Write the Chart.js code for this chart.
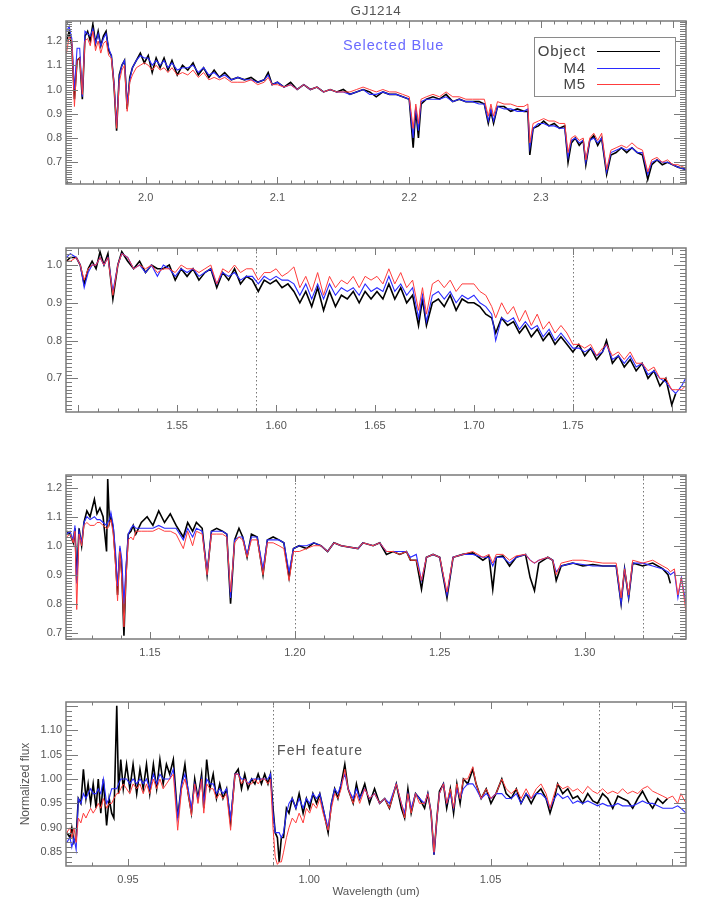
<!DOCTYPE html>
<html>
<head>
<meta charset="utf-8">
<title>GJ1214</title>
<script src="https://cdn.jsdelivr.net/npm/chart.js@4.4.1/dist/chart.umd.min.js"></script>
<style>
    body { margin: 0; background: #fff; }
    #page { position: relative; width: 706px; height: 908px; overflow: hidden; font-family: 'Liberation Sans', Arial, sans-serif; color: #555; }
    canvas.panel { position: absolute; left: 0; }
    .note { position: absolute; white-space: nowrap; line-height: 1; }
    #legend { position: absolute; left: 534px; top: 37px; width: 142px; height: 60px; border: 1px solid #8a8a8a; box-sizing: border-box; background: #fff; }
    .lg-row { position: absolute; left: 0; width: 140px; height: 16px; }
    .lg-text { position: absolute; right: 89px; top: 0; font-size: 15px; line-height: 16px; letter-spacing: 0.8px; color: #444; }
    .lg-line { position: absolute; left: 62px; width: 63px; top: 8px; }
</style>
</head>
<body>
<div id="page">
    <canvas class="panel" id="kband" width="706" height="219" style="top:5px"></canvas>
    <canvas class="panel" id="hband" width="706" height="220" style="top:232px"></canvas>
    <canvas class="panel" id="jband" width="706" height="220" style="top:459px"></canvas>
    <canvas class="panel" id="zband" width="706" height="222" style="top:686px"></canvas>

    <div class="note" style="left:0;width:752px;text-align:center;top:4px;font-size:13.5px;letter-spacing:0.6px;color:#555">GJ1214</div>
    <div class="note" style="left:343px;top:38px;font-size:14.5px;letter-spacing:0.9px;color:#6a6aff">Selected Blue</div>
    <div class="note" style="left:277px;top:743px;font-size:14px;letter-spacing:1.1px;color:#555">FeH feature</div>
    <div id="legend"></div>
</div>

<script>
// series names / colours
const seriesNames = ['Object', 'M4', 'M5'];
const seriesColors = ['#000000', '#2a2aff', '#ff3c3c'];
const seriesWidths = [1.6, 1.1, 1.0];

// ---------- K band (top panel) ----------
const kWave = [1.940,1.942,1.944,1.946,1.948,1.950,1.952,1.954,1.956,1.958,
    1.960,1.962,1.964,1.966,1.968,1.970,1.972,1.974,1.976,1.978,
    1.980,1.982,1.984,1.986,1.988,1.990,1.993,1.996,1.999,2.002,
    2.005,2.008,2.011,2.014,2.017,2.020,2.024,2.028,2.032,2.036,
    2.040,2.044,2.048,2.052,2.056,2.060,2.065,2.070,2.075,2.080,
    2.085,2.090,2.093,2.096,2.100,2.105,2.110,2.115,2.120,2.125,
    2.130,2.135,2.140,2.145,2.150,2.155,2.160,2.165,2.170,2.175,
    2.180,2.185,2.190,2.195,2.200,2.203,2.205,2.207,2.209,2.213,
    2.218,2.223,2.228,2.233,2.238,2.243,2.248,2.253,2.257,2.260,
    2.262,2.264,2.267,2.272,2.277,2.282,2.287,2.290,2.2915,2.294,
    2.298,2.302,2.306,2.310,2.314,2.318,2.3205,2.323,2.326,2.329,
    2.332,2.334,2.337,2.340,2.343,2.346,2.3498,2.353,2.357,2.361,
    2.365,2.369,2.373,2.377,2.381,2.384,2.388,2.392,2.396,2.400,
    2.404,2.410];
const kObj = [1.20,1.24,1.18,0.96,1.12,1.13,0.96,1.22,1.24,1.20,
    1.27,1.19,1.24,1.18,1.22,1.24,1.16,1.14,1.02,0.83,
    1.06,1.10,1.12,0.92,1.05,1.09,1.12,1.15,1.11,1.14,
    1.07,1.13,1.09,1.13,1.08,1.12,1.06,1.10,1.08,1.11,
    1.06,1.09,1.05,1.08,1.05,1.07,1.04,1.05,1.04,1.05,
    1.03,1.04,1.07,1.02,1.03,1.01,1.03,1.00,1.02,1.00,
    1.01,0.99,1.00,0.99,1.00,0.98,0.99,1.00,0.99,0.97,
    0.99,0.98,0.98,0.97,0.96,0.76,0.92,0.80,0.94,0.96,
    0.97,0.96,0.98,0.95,0.96,0.95,0.95,0.95,0.94,0.86,
    0.91,0.86,0.93,0.93,0.91,0.92,0.91,0.91,0.73,0.84,
    0.85,0.87,0.85,0.86,0.84,0.85,0.70,0.78,0.80,0.77,
    0.79,0.69,0.79,0.81,0.77,0.80,0.65,0.73,0.74,0.76,
    0.74,0.76,0.74,0.73,0.63,0.69,0.71,0.69,0.70,0.69,
    0.68,0.67];
const kM4 = [1.24,1.26,1.21,1.00,1.17,1.17,0.97,1.24,1.23,1.22,
    1.25,1.19,1.23,1.18,1.21,1.23,1.17,1.14,1.03,0.85,
    1.05,1.10,1.12,0.94,1.04,1.09,1.12,1.14,1.13,1.13,
    1.10,1.12,1.10,1.12,1.09,1.11,1.08,1.09,1.09,1.10,
    1.07,1.09,1.06,1.07,1.05,1.06,1.04,1.05,1.04,1.04,
    1.03,1.04,1.06,1.02,1.03,1.01,1.02,1.00,1.02,1.00,
    1.01,0.99,1.00,0.99,0.99,0.98,0.99,1.00,0.98,0.98,
    0.99,0.98,0.98,0.97,0.96,0.80,0.93,0.83,0.95,0.96,
    0.96,0.96,0.97,0.95,0.96,0.95,0.95,0.94,0.94,0.87,
    0.92,0.87,0.93,0.92,0.92,0.91,0.91,0.92,0.76,0.84,
    0.86,0.86,0.85,0.85,0.84,0.84,0.72,0.79,0.80,0.78,
    0.79,0.70,0.79,0.80,0.78,0.80,0.66,0.74,0.75,0.76,
    0.75,0.76,0.74,0.74,0.65,0.70,0.71,0.70,0.70,0.69,
    0.68,0.67];
const kM5 = [1.15,1.22,1.20,0.93,1.12,1.13,0.98,1.20,1.21,1.18,
    1.24,1.16,1.20,1.15,1.19,1.20,1.14,1.13,1.02,0.84,
    1.03,1.08,1.10,0.91,1.03,1.06,1.09,1.10,1.11,1.10,
    1.08,1.10,1.08,1.09,1.07,1.09,1.06,1.07,1.06,1.08,
    1.05,1.07,1.04,1.05,1.04,1.05,1.03,1.03,1.03,1.04,
    1.02,1.03,1.05,1.02,1.02,1.01,1.02,1.00,1.02,1.00,
    1.01,0.99,1.00,0.99,0.99,0.99,1.00,1.01,1.00,0.99,
    1.00,0.99,0.99,0.98,0.97,0.84,0.94,0.86,0.96,0.97,
    0.98,0.97,0.99,0.97,0.97,0.96,0.96,0.96,0.96,0.89,
    0.94,0.89,0.95,0.94,0.94,0.93,0.93,0.94,0.78,0.86,
    0.87,0.88,0.87,0.87,0.86,0.86,0.74,0.80,0.81,0.79,
    0.80,0.71,0.80,0.82,0.79,0.82,0.67,0.75,0.76,0.77,
    0.76,0.78,0.76,0.75,0.66,0.71,0.72,0.70,0.71,0.69,
    0.69,0.675];
const kXTicks = [2.0, 2.1, 2.2, 2.3];
const kYTicks = [0.7, 0.8, 0.9, 1.0, 1.1, 1.2];

// ---------- H band ----------
const hWave = [1.494,1.496,1.499,1.501,1.503,1.505,1.507,1.509,1.511,1.513,1.515,
    1.5175,1.520,1.522,
    1.525,1.528,1.531,1.534,1.537,1.540,1.543,1.546,1.549,1.552,
    1.555,1.558,1.561,1.564,1.567,1.570,1.573,1.576,1.579,1.582,
    1.585,1.588,1.591,1.594,1.597,1.600,1.603,1.606,1.609,1.612,
    1.615,1.618,1.621,1.624,1.627,1.630,1.633,1.636,1.639,1.642,
    1.645,1.648,1.651,1.654,1.657,1.660,1.663,1.666,1.669,1.672,
    1.674,1.676,
    1.679,1.682,1.685,1.688,1.691,1.694,1.697,1.700,1.703,1.706,1.709,
    1.711,
    1.714,1.717,1.720,1.723,1.726,1.729,1.732,1.735,1.738,1.741,
    1.744,1.747,1.750,1.753,1.756,1.759,1.762,1.765,
    1.767,
    1.770,1.773,1.776,1.779,1.782,1.785,1.788,1.791,1.794,1.797,1.800,
    1.802,1.805,1.807];
const hObj = [1.01,1.02,1.02,1.00,0.95,0.99,1.01,0.99,1.035,1.00,1.03,
    0.91,1.00,1.035,
    1.01,0.99,1.01,0.98,1.00,0.99,0.99,1.00,0.96,0.99,
    0.97,0.99,0.96,0.98,0.99,0.94,0.98,0.96,0.99,0.95,
    0.97,0.96,0.93,0.96,0.95,0.96,0.94,0.95,0.93,0.90,
    0.93,0.89,0.94,0.88,0.93,0.89,0.92,0.91,0.93,0.90,
    0.93,0.91,0.93,0.91,0.95,0.91,0.94,0.90,0.92,0.84,
    0.91,0.84,
    0.90,0.91,0.89,0.92,0.88,0.91,0.90,0.90,0.89,0.87,0.86,
    0.82,
    0.86,0.84,0.85,0.82,0.84,0.81,0.83,0.80,0.82,0.79,
    0.81,0.79,0.77,0.79,0.76,0.78,0.75,0.77,
    0.80,
    0.74,0.76,0.73,0.75,0.72,0.74,0.70,0.72,0.68,0.70,0.63,
    0.66,null,null];
const hM4 = [1.02,1.03,1.02,1.00,0.94,0.98,1.00,1.00,1.02,1.00,1.02,
    0.93,1.00,1.03,
    1.02,0.99,1.00,0.98,1.00,0.97,1.00,0.99,0.97,0.99,
    0.98,0.99,0.97,0.98,0.99,0.95,0.98,0.97,0.98,0.96,
    0.97,0.97,0.95,0.97,0.96,0.97,0.96,0.96,0.95,0.92,
    0.95,0.91,0.95,0.91,0.95,0.92,0.94,0.93,0.94,0.92,
    0.95,0.93,0.94,0.93,0.97,0.93,0.95,0.92,0.94,0.86,
    0.92,0.85,
    0.92,0.93,0.91,0.93,0.90,0.92,0.91,0.92,0.90,0.89,0.87,
    0.80,
    0.86,0.85,0.86,0.83,0.85,0.83,0.84,0.81,0.83,0.80,
    0.82,0.80,0.78,0.78,0.77,0.78,0.76,0.77,
    0.79,
    0.75,0.76,0.74,0.76,0.73,0.74,0.71,0.72,0.70,0.69,0.67,
    0.66,0.68,0.70];
const hM5 = [1.01,1.01,1.02,1.00,0.96,0.99,1.00,1.00,1.02,1.00,1.02,
    0.92,1.00,1.03,
    1.02,0.99,1.00,0.99,1.00,0.98,0.99,0.99,0.98,1.00,
    0.99,0.99,0.98,0.99,1.00,0.95,0.99,0.98,1.00,0.98,
    0.99,0.99,0.96,0.98,0.98,0.99,0.97,0.98,0.995,0.94,
    0.97,0.93,0.98,0.92,0.97,0.94,0.96,0.95,0.97,0.94,
    0.97,0.96,0.97,0.95,0.99,0.95,0.98,0.94,0.96,0.88,
    0.94,0.87,
    0.95,0.96,0.94,0.96,0.93,0.95,0.95,0.95,0.93,0.92,0.89,
    0.86,
    0.90,0.87,0.89,0.85,0.88,0.84,0.87,0.83,0.85,0.82,
    0.84,0.82,0.79,0.79,0.78,0.79,0.76,0.78,
    0.79,
    0.76,0.77,0.75,0.77,0.74,0.74,0.72,0.73,0.70,0.70,0.67,
    0.67,0.67,0.68];
const hXTicks = [1.55, 1.60, 1.65, 1.70, 1.75];
const hYTicks = [0.7, 0.8, 0.9, 1.0];
const hMarks = [1.59, 1.75];

// ---------- J band ----------
const jWave = [1.1212,1.1224,1.1235,1.1241,1.1247,1.1255,1.1264,1.1272,1.1282,1.1293,
    1.1308,1.1317,1.1327,1.1338,1.1350,1.1354,1.1360,1.1365,1.1373,1.1381,
    1.1388,1.1396,1.1403,1.1410,1.1417,1.1425,1.1434,1.1442,1.1451,1.147,
    1.149,1.151,1.153,1.155,1.157,1.159,1.1615,1.163,1.1647,1.166,
    1.168,1.1697,1.1712,1.173,1.175,1.1765,1.1778,1.1792,1.1807,1.182,
    1.1835,1.185,1.187,1.189,1.1905,1.1925,1.1945,1.1962,1.198,1.1995,
    1.2015,1.204,1.2065,1.209,1.2113,1.2135,1.216,1.2218,1.2235,1.227,
    1.2293,1.2316,1.2339,1.2362,1.2385,1.2399,1.2419,1.2437,1.2454,1.2477,
    1.250,1.2525,1.2546,1.258,1.2614,1.2649,1.267,1.2683,1.2695,1.2718,
    1.2741,1.2764,1.2796,1.2812,1.2827,1.2842,1.2873,1.289,1.2902,1.2919,
    1.2959,1.2994,1.3028,1.3063,1.3109,1.3126,1.3138,1.3152,1.3166,1.3201,
    1.3235,1.327,1.3288,1.3296,1.331,1.3322,1.3334,1.335];
const jObj = [1.05,1.04,1.01,1.06,0.88,1.06,1.00,1.08,1.12,1.10,
    1.16,1.11,1.13,1.10,0.98,1.23,1.08,1.10,1.06,0.95,
    0.83,0.99,0.90,0.69,0.90,1.04,1.05,1.07,1.04,1.08,
    1.10,1.07,1.12,1.08,1.11,1.07,1.03,1.08,1.05,1.08,
    1.06,0.90,1.05,1.06,1.05,1.04,0.80,1.02,1.06,1.03,
    0.96,1.04,1.03,0.90,1.02,1.03,1.02,1.01,0.89,0.99,
    1.00,0.99,1.01,1.00,0.98,1.01,1.00,0.99,1.01,1.00,
    1.01,0.97,0.98,0.97,0.98,0.95,0.95,0.85,0.96,0.97,
    0.96,0.82,0.96,0.97,0.975,0.95,0.965,0.85,0.96,0.965,
    0.93,0.96,0.97,0.89,0.845,0.94,0.96,0.95,0.88,0.93,
    0.94,0.93,0.935,0.93,0.93,0.80,0.92,0.82,0.94,0.93,
    0.94,0.92,0.90,0.87,null,null,null,null];
const jM4 = [1.04,1.05,1.02,1.07,0.87,1.05,1.01,1.08,1.10,1.09,
    1.10,1.09,1.09,1.08,1.07,1.08,1.09,1.115,1.07,0.98,
    0.86,1.00,0.95,0.80,0.93,1.04,1.06,1.07,1.06,1.06,
    1.06,1.06,1.07,1.06,1.06,1.06,1.02,1.06,1.03,1.06,
    1.05,0.91,1.05,1.05,1.05,1.04,0.82,1.02,1.03,1.03,
    0.97,1.03,1.03,0.92,1.02,1.02,1.02,1.01,0.91,0.99,
    1.00,1.00,1.01,1.00,0.98,1.01,1.00,0.99,1.01,1.00,
    1.01,0.98,0.98,0.98,0.98,0.96,0.97,0.88,0.96,0.97,
    0.96,0.83,0.96,0.97,0.97,0.96,0.96,0.93,0.96,0.96,
    0.94,0.96,0.97,0.95,0.94,0.95,0.96,0.95,0.91,0.93,
    0.94,0.935,0.93,0.93,0.93,0.80,0.92,0.82,0.94,0.94,
    0.93,0.92,0.91,0.90,0.91,0.82,0.89,0.80];
const jM5 = [1.03,1.04,1.01,1.05,0.78,1.04,1.00,1.07,1.08,1.07,
    1.07,1.08,1.08,1.07,1.06,1.06,1.08,1.09,1.04,0.93,
    0.81,0.98,0.88,0.72,0.88,1.02,1.03,1.02,1.05,1.05,
    1.05,1.05,1.06,1.05,1.05,1.04,0.99,1.05,1.00,1.05,
    1.04,0.90,1.04,1.04,1.04,1.03,0.84,1.01,1.03,1.02,
    0.96,1.02,1.02,0.90,1.01,1.01,1.00,0.99,0.88,0.98,
    0.98,0.99,1.00,1.00,0.98,1.01,1.00,0.99,1.01,1.00,
    1.01,0.98,0.98,0.97,0.98,0.95,0.95,0.88,0.96,0.97,
    0.96,0.84,0.96,0.97,0.98,0.96,0.97,0.94,0.97,0.97,
    0.95,0.965,0.97,0.95,0.94,0.95,0.96,0.95,0.90,0.94,
    0.95,0.95,0.945,0.94,0.94,0.82,0.92,0.83,0.95,0.94,
    0.95,0.93,0.92,0.91,0.92,0.83,0.89,0.77];
const jXTicks = [1.15, 1.20, 1.25, 1.30];
const jYTicks = [0.7, 0.8, 0.9, 1.0, 1.1, 1.2];
const jMarks = [1.20, 1.32];

// ---------- z / Y band (bottom panel) ----------
const zWave = [0.9331,0.9340,0.9345,0.9351,0.9357,0.9363,0.9370,0.9377,0.9384,0.9390,
    0.9397,0.9404,0.9412,0.9418,0.9425,0.9432,0.9441,0.9448,0.9455,0.9461,
    0.9469,0.9474,0.9480,0.9487,0.9496,0.9505,0.9514,0.9524,0.9533,0.9542,
    0.9551,0.9560,0.9570,0.9579,0.9588,0.9597,0.9606,0.9615,0.9625,0.9637,
    0.9648,0.9657,0.9666,0.9675,0.9684,0.9693,0.9703,0.9709,0.9717,0.9726,
    0.9735,0.9744,0.9753,0.9762,0.9772,0.9783,0.9795,0.9804,0.9813,0.9822,
    0.9831,0.9841,0.9850,0.9859,0.9868,0.9877,0.9886,0.9893,0.9900,0.9906,
    0.9912,0.9917,0.9923,0.9929,0.9937,0.9944,0.9953,0.9963,0.9972,0.9983,
    0.9992,1.0001,1.0010,1.0020,1.0029,1.0038,1.0052,1.0061,1.0070,1.0079,
    1.0088,1.0098,1.0107,1.0121,1.0130,1.0139,1.0153,1.0166,1.0180,1.0194,
    1.0208,1.0221,1.0240,1.0254,1.0263,1.0272,1.0281,1.0293,1.0304,1.0318,
    1.0327,1.0336,1.0344,1.0352,1.0359,1.0370,1.0379,1.0389,1.0398,1.0407,
    1.0416,1.0425,1.0437,1.0451,1.0460,1.0474,1.0488,1.0501,1.0515,1.0531,
    1.0543,1.0557,1.0571,1.0584,1.0598,1.0612,1.0626,1.0639,1.0653,1.0664,
    1.0676,1.0685,1.0699,1.0713,1.0727,1.0740,1.0754,1.0768,1.0782,1.0795,
    1.0809,1.0823,1.0837,1.0851,1.0864,1.0878,1.0892,1.0906,1.0919,1.0933,
    1.0947,1.0961,1.0975,1.0988,1.1002,1.1016,1.1025,1.1039];
const zObj = [0.89,0.88,0.90,0.87,0.88,0.96,0.95,1.02,0.96,0.99,
    0.95,0.99,0.94,1.00,0.93,1.00,0.905,0.96,0.93,0.92,
    1.15,0.97,1.04,0.98,1.03,0.98,1.03,0.97,1.02,0.98,
    1.03,0.97,1.03,0.98,1.04,0.99,1.03,1.01,1.04,0.92,
    0.99,1.03,0.97,0.93,1.00,0.96,1.01,0.94,1.04,0.98,
    1.01,0.96,0.99,0.96,0.98,0.91,1.01,1.02,0.98,1.01,
    0.98,1.00,0.99,1.01,0.99,1.01,0.99,1.01,0.94,0.89,
    0.88,0.83,0.88,0.88,0.94,0.93,0.96,0.94,0.97,0.93,
    0.96,0.94,0.97,0.95,0.97,0.94,0.89,0.95,0.98,0.96,
    0.99,1.03,0.98,0.95,0.99,0.96,0.99,0.95,0.98,0.95,
    0.96,0.94,0.99,0.94,0.92,0.98,0.93,0.97,0.96,0.94,
    0.97,0.93,0.845,0.92,0.975,0.99,0.94,0.98,0.93,0.99,
    0.95,1.00,0.99,1.02,0.99,0.96,0.98,0.95,0.97,1.00,
    0.97,0.96,0.98,0.95,0.97,0.95,0.97,0.98,0.96,0.93,
    0.96,0.99,0.97,0.98,0.96,0.965,0.95,0.97,0.955,0.95,
    0.97,0.96,0.94,0.965,0.96,0.955,0.94,0.96,0.975,0.955,
    0.94,0.96,0.95,0.96,null,null,null,null];
const zM4 = [0.87,0.88,0.86,0.88,0.855,0.96,0.95,0.97,0.96,0.97,
    0.98,0.97,0.97,0.98,0.97,1.00,0.95,0.96,0.98,0.98,
    0.98,0.99,1.00,1.00,1.00,0.99,1.00,0.99,1.00,0.99,
    1.00,0.98,1.01,0.99,1.01,1.00,1.00,1.00,1.02,0.92,
    0.99,1.01,0.98,0.94,0.99,0.96,1.00,0.95,1.00,0.99,
    0.99,0.97,0.98,0.97,0.98,0.92,1.01,1.01,1.00,1.00,
    0.99,1.00,1.00,1.00,1.00,1.00,1.00,1.01,0.93,0.89,
    0.89,0.89,0.88,0.89,0.93,0.95,0.96,0.94,0.96,0.94,
    0.96,0.95,0.97,0.96,0.97,0.94,0.90,0.95,0.98,0.97,
    0.99,1.01,0.98,0.96,0.98,0.96,0.98,0.96,0.97,0.95,
    0.96,0.95,0.99,0.95,0.93,0.97,0.94,0.97,0.96,0.95,
    0.97,0.93,0.845,0.92,0.97,0.99,0.95,0.97,0.94,0.98,
    0.96,0.98,0.99,0.99,0.98,0.96,0.97,0.96,0.97,0.97,
    0.96,0.96,0.97,0.95,0.97,0.96,0.97,0.97,0.96,0.94,
    0.96,0.97,0.96,0.965,0.95,0.955,0.95,0.955,0.95,0.945,
    0.95,0.945,0.945,0.95,0.945,0.945,0.945,0.95,0.955,0.95,
    0.95,0.945,0.94,0.94,0.94,0.945,0.94,0.93];
const zM5 = [0.89,0.90,0.88,0.90,0.87,0.92,0.91,0.93,0.92,0.93,
    0.94,0.93,0.94,0.95,0.94,0.96,0.94,0.95,0.95,0.96,
    0.97,0.97,0.98,0.99,0.98,0.97,0.99,0.98,0.99,0.97,
    0.99,0.97,1.00,0.98,1.00,0.98,0.99,1.00,1.01,0.895,
    0.98,1.00,0.97,0.925,0.99,0.95,1.00,0.93,0.99,0.98,
    0.98,0.96,0.97,0.96,0.97,0.895,1.01,1.01,0.99,1.00,
    0.99,0.99,1.00,0.99,1.00,1.00,0.99,1.00,0.90,0.84,
    0.825,0.83,0.83,0.85,0.88,0.90,0.92,0.91,0.93,0.91,
    0.94,0.93,0.95,0.94,0.96,0.93,0.895,0.94,0.97,0.96,
    0.98,1.02,0.98,0.95,0.97,0.95,0.98,0.96,0.97,0.95,
    0.96,0.94,0.99,0.95,0.92,0.97,0.93,0.97,0.95,0.95,
    0.97,0.93,0.85,0.92,0.97,0.99,0.95,0.98,0.94,0.99,
    0.96,1.00,1.00,1.025,0.99,0.96,0.98,0.96,0.97,1.00,
    0.98,0.97,0.98,0.96,0.98,0.96,0.98,0.99,0.97,0.94,
    0.97,0.99,0.98,0.985,0.975,0.98,0.97,0.985,0.975,0.97,
    0.98,0.97,0.975,0.97,0.98,0.97,0.975,0.97,0.98,0.985,
    0.975,0.97,0.965,0.96,0.965,0.95,0.97,0.95];
const zXTicks = [0.95, 1.00, 1.05];
const zYTicks = [0.85, 0.90, 0.95, 1.00, 1.05, 1.10];
const zMarks = [0.99, 1.08];

Chart.defaults.font.family = "'Liberation Sans', Arial, sans-serif";
Chart.defaults.font.size = 11;
Chart.defaults.color = '#555';

// IDL-style frame: box, inward ticks on all four sides, dotted markers
const frameTicks = {
    id: 'frameTicks',
    beforeDatasetsDraw(chart, args, o) {
        const { ctx, chartArea: a, scales: { x } } = chart;
        ctx.save();
        ctx.strokeStyle = '#777';
        ctx.lineWidth = 1;
        ctx.setLineDash([1.5, 2.5]);
        (o.marks || []).forEach(m => {
            const px = Math.round(x.getPixelForValue(m)) + 0.5;
            ctx.beginPath();
            ctx.moveTo(px, a.top);
            ctx.lineTo(px, a.bottom);
            ctx.stroke();
        });
        ctx.restore();
    },
    afterDatasetsDraw(chart, args, o) {
        const { ctx, chartArea: a, scales: { x, y } } = chart;
        const steps = (scale, step) => {
            const out = [];
            const n0 = Math.ceil(scale.min / step - 1e-6), n1 = Math.floor(scale.max / step + 1e-6);
            for (let i = n0; i <= n1; i++) out.push(i * step);
            return out;
        };
        const isMajor = (v, major) => Math.abs(v / major - Math.round(v / major)) < 1e-4;
        ctx.save();
        ctx.strokeStyle = '#7a7a7a';
        ctx.lineWidth = 1;
        ctx.beginPath();
        steps(x, o.xMinor).forEach(v => {
            const len = isMajor(v, o.xMajor) ? 7 : 3.5;
            const px = Math.round(x.getPixelForValue(v)) + 0.5;
            ctx.moveTo(px, a.bottom); ctx.lineTo(px, a.bottom - len);
            ctx.moveTo(px, a.top); ctx.lineTo(px, a.top + len);
        });
        steps(y, o.yMinor).forEach(v => {
            const len = isMajor(v, o.yMajor) ? 12 : 6;
            const py = Math.round(y.getPixelForValue(v)) + 0.5;
            ctx.moveTo(a.left, py); ctx.lineTo(a.left + len, py);
            ctx.moveTo(a.right, py); ctx.lineTo(a.right - len, py);
        });
        ctx.stroke();
        ctx.lineWidth = 1.5;
        ctx.strokeRect(a.left, a.top, a.right - a.left, a.bottom - a.top);
        ctx.restore();
    }
};

function makePanel(id, wave, series, cfg) {
    const datasets = series.map((vals, i) => ({
        label: seriesNames[i],
        data: wave.map((w, k) => ({ x: w, y: vals[k] })),
        borderColor: seriesColors[i],
        borderWidth: seriesWidths[i],
        pointRadius: 0,
        tension: 0,
        spanGaps: false,
        order: 3 - i
    }));
    return new Chart(document.getElementById(id), {
        type: 'line',
        data: { datasets },
        plugins: [frameTicks],
        options: {
            responsive: false,
            animation: false,
            devicePixelRatio: 1,
            layout: { padding: { top: 16, right: 20, left: 0, bottom: 0 } },
            plugins: {
                legend: { display: false },
                tooltip: { enabled: false },
                frameTicks: { marks: cfg.marks, xMajor: cfg.xMajor, xMinor: 0.01, yMajor: cfg.yMajor, yMinor: 0.01 }
            },
            scales: {
                x: {
                    type: 'linear',
                    min: cfg.xMin, max: cfg.xMax,
                    grid: { display: false, drawTicks: false },
                    border: { display: false },
                    afterBuildTicks: s => { s.ticks = cfg.xTicks.map(v => ({ value: v })); },
                    afterFit: s => { s.height = cfg.bottomH; },
                    ticks: { padding: 7, autoSkip: false, maxRotation: 0, callback: v => v.toFixed(cfg.xDec) },
                    title: cfg.xTitle ? { display: true, text: cfg.xTitle, font: { size: 11.5 }, padding: { top: 0, bottom: 9 }, color: '#555' } : { display: false }
                },
                y: {
                    min: cfg.yMin, max: cfg.yMax,
                    grid: { display: false, drawTicks: false },
                    border: { display: false },
                    afterBuildTicks: s => { s.ticks = cfg.yTicks.map(v => ({ value: v })); },
                    afterFit: s => { s.width = 66; },
                    ticks: { padding: 4, autoSkip: false, callback: v => v.toFixed(cfg.yDec) },
                    title: cfg.yTitle ? { display: true, text: cfg.yTitle, font: { size: 12 }, padding: { top: 18, bottom: 0 }, color: '#555' } : { display: false }
                }
            }
        }
    });
}

makePanel('kband', kWave, [kObj, kM4, kM5], {
    xMin: 1.9396, xMax: 2.410, yMin: 0.6105, yMax: 1.2824,
    xTicks: kXTicks, yTicks: kYTicks, xDec: 1, yDec: 1, xMajor: 0.1, yMajor: 0.1,
    marks: [], bottomH: 40
});
makePanel('hband', hWave, [hObj, hM4, hM5], {
    xMin: 1.4938, xMax: 1.8072, yMin: 0.611, yMax: 1.045,
    xTicks: hXTicks, yTicks: hYTicks, xDec: 2, yDec: 1, xMajor: 0.05, yMajor: 0.1,
    marks: hMarks, bottomH: 40
});
makePanel('jband', jWave, [jObj, jM4, jM5], {
    xMin: 1.121, xMax: 1.335, yMin: 0.6783, yMax: 1.2438,
    xTicks: jXTicks, yTicks: jYTicks, xDec: 2, yDec: 1, xMajor: 0.05, yMajor: 0.1,
    marks: jMarks, bottomH: 40
});
makePanel('zband', zWave, [zObj, zM4, zM5], {
    xMin: 0.9329, xMax: 1.1039, yMin: 0.8217, yMax: 1.1578,
    xTicks: zXTicks, yTicks: zYTicks, xDec: 2, yDec: 2, xMajor: 0.05, yMajor: 0.05,
    marks: zMarks, bottomH: 42,
    xTitle: 'Wavelength (um)', yTitle: 'Normalized flux'
});

// legend box (text left, line sample right)
const legend = document.getElementById('legend');
seriesNames.forEach((name, i) => {
    const row = document.createElement('div');
    row.className = 'lg-row';
    row.style.top = (5 + i * 16.7) + 'px';
    row.innerHTML = '<span class="lg-text">' + name + '</span>' +
        '<div class="lg-line" style="border-top:' + (i === 0 ? 1.5 : 1.2) + 'px solid ' + seriesColors[i] + '"></div>';
    legend.appendChild(row);
});
</script>
</body>
</html>
